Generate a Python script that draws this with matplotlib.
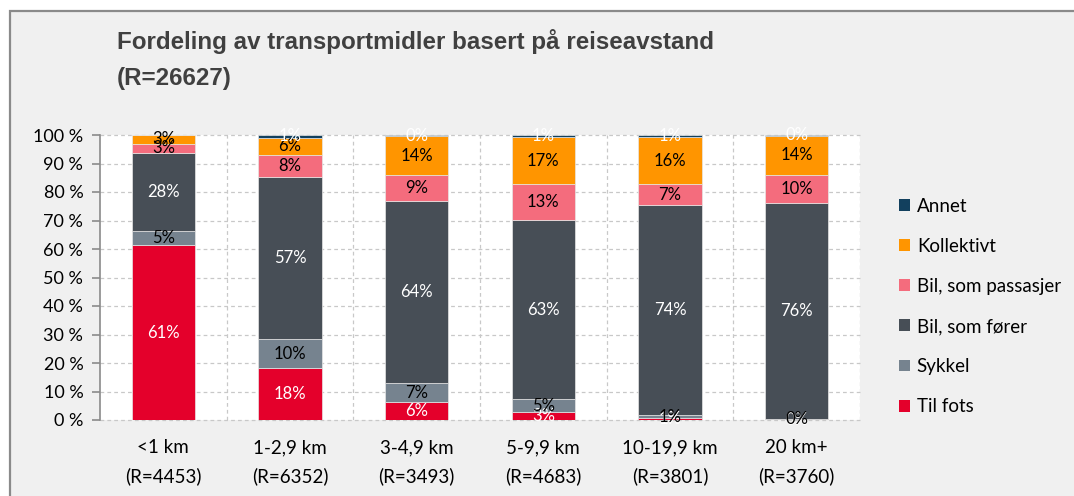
import matplotlib
matplotlib.use('Agg')
import matplotlib.pyplot as plt
from matplotlib.patches import Patch, Rectangle
import numpy as np

categories = ['<1 km\n(R=4453)', '1-2,9 km\n(R=6352)', '3-4,9 km\n(R=3493)',
              '5-9,9 km\n(R=4683)', '10-19,9 km\n(R=3801)', '20 km+\n(R=3760)']
til_fots = [61.3, 18.2, 6.2, 2.7, 0.6, 0.2]
sykkel = [4.9, 10.2, 6.8, 4.7, 1.2, 0.3]
bil_forer = [27.6, 57.0, 64.0, 62.7, 73.6, 75.6]
bil_passasjer = [3.2, 7.7, 8.8, 12.6, 7.3, 10.0]
kollektivt = [3.0, 6.0, 13.8, 16.7, 16.5, 13.7]
annet = [0.0, 0.9, 0.4, 0.6, 0.8, 0.2]
y_ticks = [0, 10, 20, 30, 40, 50, 60, 70, 80, 90, 100]
y_tick_labels = [f'{v} %' for v in y_ticks]

series = [
    ('Til fots', til_fots, '#E4002B', 'white'),
    ('Sykkel', sykkel, '#76838F', 'black'),
    ('Bil, som fører', bil_forer, '#474E56', 'white'),
    ('Bil, som passasjer', bil_passasjer, '#F46C7D', 'black'),
    ('Kollektivt', kollektivt, '#FF9500', 'black'),
    ('Annet', annet, '#12405E', 'white'),
]

W, H = 1074, 496
fig = plt.figure(figsize=(W / 100, H / 100), dpi=100, facecolor='white')
fig.patches.append(Rectangle((10 / W, -0.1), 1.2, (1 - 10.5 / H) + 0.1,
                             transform=fig.transFigure, facecolor='#f0f0f0',
                             edgecolor='#8a8a8a', linewidth=1.6, zorder=-10))

ax = fig.add_axes([100 / W, (H - 420) / H, 760 / W, 285 / H])
ax.set_facecolor('white')

x = np.arange(len(categories))
bottom = np.zeros(len(categories))
for name, vals, col, tcol in series:
    vals = np.array(vals)
    ax.bar(x, vals, 0.5, bottom=bottom, color=col, edgecolor='#e6e6e6',
           linewidth=0.5, zorder=3)
    for xi, b, v in zip(x, bottom, vals):
        if v > 0:
            ax.text(xi, b + v / 2, f'{int(round(v))}%', ha='center', va='center',
                    color=tcol, fontsize=12, family='Lato', zorder=5, clip_on=False)
    bottom += vals

ax.set_xlim(-0.5, len(categories) - 0.5)
ax.set_ylim(0, 100)
ax.set_yticks(y_ticks)
ax.set_yticklabels(y_tick_labels, family='Lato', fontsize=13)
ax.set_xticks(x)
ax.set_xticklabels(categories, family='Lato', fontsize=13.5, linespacing=1.75)
ax.tick_params(axis='x', length=0, pad=14)
ax.tick_params(axis='y', length=6, width=1.2, color='#8a8a8a', pad=6)

for y in y_ticks:
    ax.axhline(y, color='#c8c8c8', lw=0.9, ls=(0, (3, 2.5)), zorder=1, clip_on=False)
for k in range(1, len(categories) + 1):
    ax.axvline(k - 0.5, color='#c8c8c8', lw=0.9, ls=(0, (3, 2.5)), zorder=1)

for s in ['top', 'right', 'bottom']:
    ax.spines[s].set_visible(False)
ax.spines['left'].set_color('#8a8a8a')
ax.spines['left'].set_linewidth(1.2)

fig.text(117 / W, 1 - 49 / H, 'Fordeling av transportmidler basert på reiseavstand',
         family='Liberation Sans', weight='bold', fontsize=17.4, color='#404040',
         va='baseline', ha='left')
fig.text(117 / W, 1 - 85 / H, '(R=26627)',
         family='Liberation Sans', weight='bold', fontsize=17.4, color='#404040',
         va='baseline', ha='left')

handles = [Patch(facecolor=col, edgecolor='none', label=name)
           for name, vals, col, tcol in series][::-1]
fig.legend(handles=handles, loc='upper left', bbox_to_anchor=(899 / W, 1 - 197.5 / H),
           frameon=False, prop={'family': 'Lato', 'size': 13.5},
           handlelength=0.6, handleheight=0.6, handletextpad=0.35,
           labelspacing=1.235, borderpad=0, borderaxespad=0)

fig.savefig('out.png', dpi=100, facecolor=fig.get_facecolor())
